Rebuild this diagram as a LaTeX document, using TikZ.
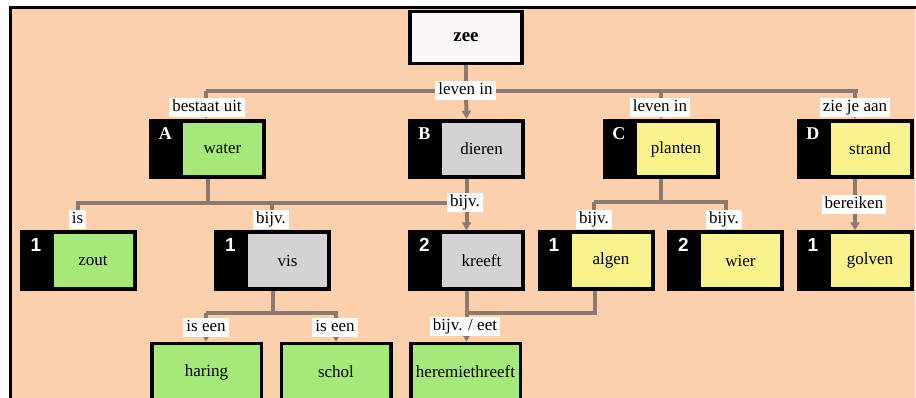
\documentclass[tikz,border=0pt]{standalone}
\usepackage{fontspec}
\setmainfont{Liberation Serif}
\newfontfamily\digitfont{Liberation Sans}
\usetikzlibrary{arrows.meta,calc}
\definecolor{peach}{RGB}{252,208,172}
\definecolor{conn}{RGB}{140,122,112}
\definecolor{cgreen}{RGB}{166,232,122}
\definecolor{cgray}{RGB}{212,210,212}
\definecolor{cyellow}{RGB}{250,242,140}
\definecolor{zeefill}{RGB}{250,246,250}
\tikzset{
  txt/.style={font=\fontsize{17}{19}\selectfont},
  outerbox/.style={fill=black, draw=none, inner sep=0pt, minimum width=117pt, minimum height=60pt},
  innerbox/.style={txt, draw=none, inner sep=0pt, minimum width=79pt, minimum height=52pt},
  leafbox/.style={txt, draw=black, line width=3.5pt, fill=cgreen, inner sep=0pt, minimum width=109.5pt, minimum height=57pt},
  lettertag/.style={text=white, inner sep=0pt, font=\fontsize{18}{18}\selectfont\bfseries},
  digittag/.style={text=white, inner sep=0pt, font=\fontsize{19}{19}\selectfont\digitfont\bfseries},
  lbl/.style={txt, fill=white, inner xsep=3pt, inner ysep=1.5pt, text height=12pt, text depth=4pt},
  link/.style={draw=conn, line width=4pt},
  arr/.style={link, -{Triangle[width=9pt,length=8pt]}},
}
\newcommand\conbox[7]{% name, cx, cy, tag, tagstyle, fill, text
  \node[outerbox] (#1) at (#2,#3) {};
  \node[innerbox, fill=#6] (#1-in) at ($(#1.center)+(15,0)$) {#7};
  \node[#5] (#1-tag) at ($(#1.north west)+(16.5,14.5)$) {#4};
}
\begin{document}
\begin{tikzpicture}[x=1pt,y=-1pt]
\useasboundingbox (0,0) rectangle (916,398);
\fill[white] (0,0) rectangle (916,398);
\fill[peach] (10,7) rectangle (915,402);
\draw[black, line width=3pt] (10,402) -- (10,7.5) -- (916,7.5);

% top node
\node[draw=black, line width=3.5pt, fill=zeefill, inner sep=0pt, minimum width=112pt, minimum height=52pt, font=\fontsize{19}{19}\selectfont\bfseries] (zee) at (466,37.5) {zee};

% row 1
\conbox{A}{207.5}{149}{A}{lettertag}{cgreen}{water}
\conbox{B}{466.5}{149}{B}{lettertag}{cgray}{dieren}
\conbox{C}{661}{149}{C}{lettertag}{cyellow}{planten}
\conbox{D}{855}{149}{D}{lettertag}{cyellow}{strand}

% row 2
\conbox{zout}{78}{260.5}{1}{digittag}{cgreen}{zout}
\conbox{vis}{272.5}{260.5}{1}{digittag}{cgray}{vis}
\conbox{kreeft}{466.5}{260.5}{2}{digittag}{cgray}{kreeft}
\conbox{algen}{596}{260.5}{1}{digittag}{cyellow}{algen}
\conbox{wier}{725.5}{260.5}{2}{digittag}{cyellow}{wier}
\conbox{golven}{855}{260.5}{1}{digittag}{cyellow}{golven}

% row 3
\node[leafbox] (haring) at (206.5,372) {haring};
\node[leafbox] (schol) at (336,372) {schol};
\node[leafbox] (heremiet) at (465.5,372) {heremiethreeft};

% junction coordinates
\coordinate (j0) at (466,91);
\coordinate (j0a) at (206,91);
\coordinate (j0c) at (661,91);
\coordinate (j0d) at (855,91);
\coordinate (j0e) at (858,91);
\coordinate (j1) at (207.5,203);
\coordinate (j1l) at (76,203);
\coordinate (j1z) at (78,203);
\coordinate (j1v) at (272,203);
\coordinate (j1k) at (466.5,203);
\coordinate (j2) at (661,202);
\coordinate (j2a) at (594,202);
\coordinate (j2w) at (725.5,202);
\coordinate (j2e) at (728,202);
\coordinate (j3) at (272.5,313);
\coordinate (j3h) at (206,313);
\coordinate (j3s) at (336,313);
\coordinate (j3e) at (338,313);
\coordinate (j4k) at (466.5,313);
\coordinate (j4a) at (595,313);

% connectors level 1
\draw[link] (zee.south) -- (j0);
\draw[link] (j0a) -- (j0e);
\draw[arr] (j0a) -- (A.north -| j0a);
\draw[arr] (j0) -- (B.north);
\draw[arr] (j0c) -- (C.north);
\draw[arr] (j0d) -- (D.north);

% connectors level 2
\draw[link] (A.south) -- (j1);
\draw[link] (j1l) -- (j1k);
\draw[arr] (j1z) -- (zout.north);
\draw[arr] (j1v) -- (vis.north -| j1v);
\draw[arr] (B.south) -- (kreeft.north);
\draw[link] (C.south) -- (j2);
\draw[link] (j2a) -- (j2e);
\draw[arr] (j2a) -- (algen.north -| j2a);
\draw[arr] (j2w) -- (wier.north);
\draw[arr] (D.south) -- (golven.north);

% connectors level 3
\draw[link] (vis.south -| j3) -- (j3);
\draw[link] (j3h) -- (j3e);
\draw[arr] (j3h) -- (haring.north -| j3h);
\draw[arr] (j3s) -- (schol.north);
\draw[link] (kreeft.south) -- (j4k) -- (j4a) -- (algen.south -| j4a);
\draw[arr] (j4k) -- (heremiet.north -| j4k);

% labels
\node[lbl] (l1) at (207,107.5) {bestaat uit};
\node[lbl] (l2) at (465.5,91) {leven in};
\node[lbl] (l3) at (660,107.5) {leven in};
\node[lbl] (l4) at (855,107.5) {zie je aan};
\node[lbl] (l5) at (77.5,220) {is};
\node[lbl] (l6) at (271,220) {bijv.};
\node[lbl] (l7) at (465,202.5) {bijv.};
\node[lbl] (l8) at (594,220) {bijv.};
\node[lbl] (l9) at (724,220) {bijv.};
\node[lbl] (l10) at (854,205) {bereiken};
\node[lbl] (l11) at (206,327) {is een};
\node[lbl] (l12) at (335,327) {is een};
\node[lbl] (l13) at (465,326.5) {bijv. / eet};
\end{tikzpicture}
\end{document}
